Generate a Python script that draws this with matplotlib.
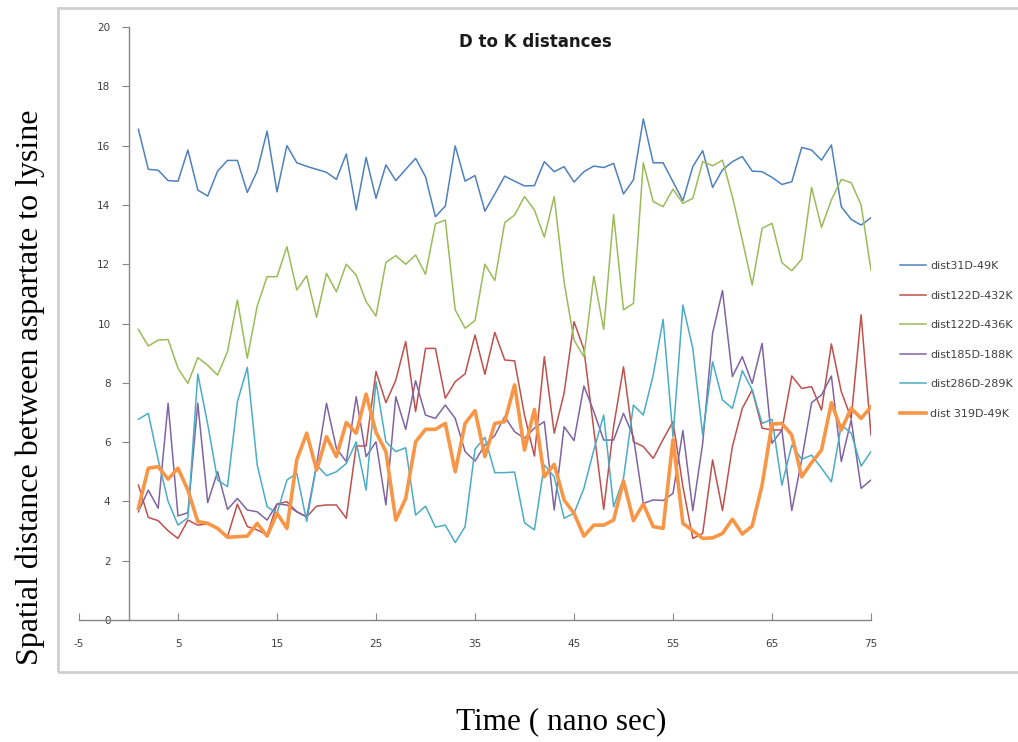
import numpy as np
import matplotlib
matplotlib.use("Agg")
import matplotlib.pyplot as plt
from matplotlib.patches import Rectangle

plt.rcParams["axes.unicode_minus"] = False

# time points (ns)
time_ns = np.arange(1, 76)

dist31D_49K = [
    16.55, 15.2, 15.17, 14.82, 14.8, 15.85, 14.5, 14.3, 15.14, 15.5,
    15.5, 14.42, 15.14, 16.49, 14.44, 16.0, 15.42, 15.3, 15.2, 15.1,
    14.86, 15.72, 13.83, 15.6, 14.22, 15.35, 14.82, 15.2, 15.57, 14.95,
    13.6, 13.96, 15.99, 14.8, 14.99, 13.79, 14.37, 14.97, 14.8, 14.64,
    14.65, 15.46, 15.12, 15.29, 14.77, 15.12, 15.31, 15.26, 15.4, 14.37,
    14.84, 16.9, 15.42, 15.42, 14.78, 14.14, 15.29, 15.83, 14.59, 15.18,
    15.46, 15.63, 15.14, 15.12, 14.93, 14.69, 14.78, 15.94, 15.85, 15.51,
    16.02, 13.94, 13.51, 13.32, 13.57,
]

dist122D_432K = [
    4.55, 3.46, 3.35, 3.01, 2.75, 3.37, 3.2, 3.24, 3.1, 2.81,
    3.91, 3.15, 3.04, 2.87, 3.91, 3.99, 3.65, 3.48, 3.84, 3.88,
    3.88, 3.43, 5.87, 5.87, 8.38, 7.33, 8.09, 9.39, 7.03, 9.16,
    9.16, 7.48, 8.04, 8.3, 9.61, 8.29, 9.7, 8.77, 8.74, 6.91,
    5.53, 8.88, 6.3, 7.65, 10.06, 9.13, 6.41, 3.73, 6.52, 8.54,
    6.01, 5.85, 5.45, 6.09, 6.69, 4.5, 2.75, 2.92, 5.4, 3.69,
    5.85, 7.14, 7.76, 6.47, 6.41, 6.41, 8.23, 7.81, 7.87, 7.08,
    9.31, 7.7, 6.8, 10.29, 6.24,
]

dist122D_436K = [
    9.8, 9.24, 9.44, 9.46, 8.49, 7.98, 8.85, 8.59, 8.26, 9.05,
    10.79, 8.83, 10.59, 11.58, 11.58, 12.59, 11.13, 11.61, 10.21, 11.69,
    11.07, 12.0, 11.63, 10.74, 10.25, 12.06, 12.29, 12.0, 12.31, 11.66,
    13.36, 13.49, 10.46, 9.84, 10.1, 12.0, 11.45, 13.4, 13.66, 14.28,
    13.83, 12.91, 14.28, 11.4, 9.44, 8.88, 11.6, 9.8, 13.68, 10.46,
    10.68, 15.42, 14.11, 13.94, 14.53, 14.05, 14.22, 15.46, 15.32, 15.51,
    14.28, 12.82, 11.3, 13.21, 13.38, 12.05, 11.78, 12.17, 14.59, 13.24,
    14.17, 14.86, 14.75, 14.0, 11.8,
]

dist185D_188K = [
    3.65, 4.38, 3.77, 7.31, 3.51, 3.62, 7.31, 3.96, 5.0, 3.73,
    4.1, 3.71, 3.65, 3.37, 3.91, 3.88, 3.65, 3.48, 5.23, 7.31,
    5.79, 5.34, 7.53, 5.51, 6.01, 3.88, 7.53, 6.43, 8.07, 6.91,
    6.8, 7.25, 6.8, 5.68, 5.36, 5.9, 6.22, 6.86, 6.35, 6.13,
    6.47, 6.69, 3.71, 6.52, 6.05, 7.89, 7.03, 6.07, 6.07, 6.97,
    6.18, 3.93, 4.05, 4.03, 4.27, 6.39, 3.69, 5.96, 9.67, 11.11,
    8.21, 8.88, 7.98, 9.33, 5.96, 6.41, 3.69, 5.4, 7.33, 7.59,
    8.23, 5.34, 6.75, 4.44, 4.72,
]

dist286D_289K = [
    6.77, 6.97, 5.4, 4.0, 3.2, 3.45, 8.3, 6.6, 4.72, 4.5,
    7.36, 8.52, 5.23, 3.82, 3.6, 4.72, 4.95, 3.32, 5.23, 4.87,
    5.0, 5.28, 6.01, 4.38, 8.04, 6.01, 5.68, 5.81, 3.54, 3.84,
    3.13, 3.2, 2.61, 3.15, 5.76, 6.16, 4.97, 4.97, 4.99, 3.28,
    3.04, 5.23, 4.83, 3.43, 3.6, 4.44, 5.73, 6.91, 3.82, 4.78,
    7.25, 6.91, 8.26, 10.14, 6.18, 10.62, 9.16, 6.24, 8.71, 7.42,
    7.14, 8.41, 7.76, 6.63, 6.77, 4.55, 5.9, 5.42, 5.56, 5.12,
    4.66, 6.58, 6.3, 5.19, 5.68,
]

dist319D_49K = [
    3.77, 5.12, 5.17, 4.75, 5.12, 4.38, 3.32, 3.26, 3.09, 2.79,
    2.81, 2.83, 3.26, 2.83, 3.6, 3.09, 5.4, 6.3, 5.06, 6.18,
    5.51, 6.66, 6.3, 7.62, 6.33, 5.68, 3.37, 4.1, 6.01, 6.43,
    6.43, 6.63, 5.0, 6.63, 7.06, 5.51, 6.63, 6.69, 7.93, 5.73,
    7.1, 4.83, 5.25, 4.05, 3.6, 2.83, 3.2, 3.2, 3.37, 4.69,
    3.35, 3.91, 3.15, 3.09, 6.09, 3.26, 3.01, 2.75, 2.77, 2.92,
    3.4, 2.9, 3.17, 4.55, 6.61, 6.63, 6.24, 4.83, 5.31, 5.73,
    7.33, 6.41, 7.14, 6.8, 7.19,
]

series = [
    ("dist31D-49K", dist31D_49K, "#4F81BD", 1.1),
    ("dist122D-432K", dist122D_432K, "#C0504D", 1.1),
    ("dist122D-436K", dist122D_436K, "#9BBB59", 1.1),
    ("dist185D-188K", dist185D_188K, "#8064A2", 1.1),
    ("dist286D-289K", dist286D_289K, "#4BACC6", 1.1),
    ("dist 319D-49K", dist319D_49K, "#F79646", 2.6),
]

x_ticks = [-5, 5, 15, 25, 35, 45, 55, 65, 75]
y_ticks = list(range(0, 21, 2))

axis_grey = "#868686"
label_grey = "#404040"

fig = plt.figure(figsize=(10.18, 7.42), dpi=100)
ax = fig.add_axes([79 / 1018, 1 - 620 / 742, (871 - 79) / 1018, (620 - 27) / 742])

for name, vals, color, lw in series:
    ax.plot(time_ns, vals, color=color, lw=lw, label=name,
            solid_joinstyle="round")

ax.set_xlim(-5, 75)
ax.set_ylim(0, 20)
ax.set_xticks(x_ticks)
ax.set_yticks(y_ticks)

# value axis crosses the time axis at zero, like the spreadsheet chart
ax.spines["left"].set_position(("data", 0))
ax.spines["right"].set_visible(False)
ax.spines["top"].set_visible(False)
for sp in ("left", "bottom"):
    ax.spines[sp].set_color(axis_grey)
    ax.spines[sp].set_linewidth(1.0)

ax.tick_params(axis="x", direction="in", length=5, color=axis_grey,
               labelsize=7.5, labelcolor=label_grey, pad=14)
ax.tick_params(axis="y", direction="out", length=5, color=axis_grey,
               labelsize=7.5, labelcolor=label_grey, pad=8)

fig.text(535 / 1018, 1 - 42 / 742, "D to K distances", ha="center",
         va="center", fontsize=12, fontweight="bold", color="#1a1a1a")

fig.text(30 / 1018, 1 - 387 / 742, "Spatial distance between aspartate to lysine",
         rotation=90, ha="center", va="center", fontsize=23,
         family="Liberation Serif")
fig.text(561 / 1018, 1 - 722 / 742, "Time ( nano sec)", ha="center",
         va="center", fontsize=22.5, family="Liberation Serif")

leg = fig.legend(loc="center left", bbox_to_anchor=(890 / 1018, 1 - 340 / 742),
                 frameon=False, fontsize=8, handlelength=2.3,
                 handletextpad=0.4, labelspacing=1.75)
for t in leg.get_texts():
    t.set_color(label_grey)

# light frame round the chart area
fig.patches.append(Rectangle((58 / 1018, 1 - 672 / 742), 1.0, (672 - 8) / 742,
                             transform=fig.transFigure, fill=False,
                             edgecolor="#cfcfcf", lw=2.0))

fig.savefig("out.png", dpi=100)
